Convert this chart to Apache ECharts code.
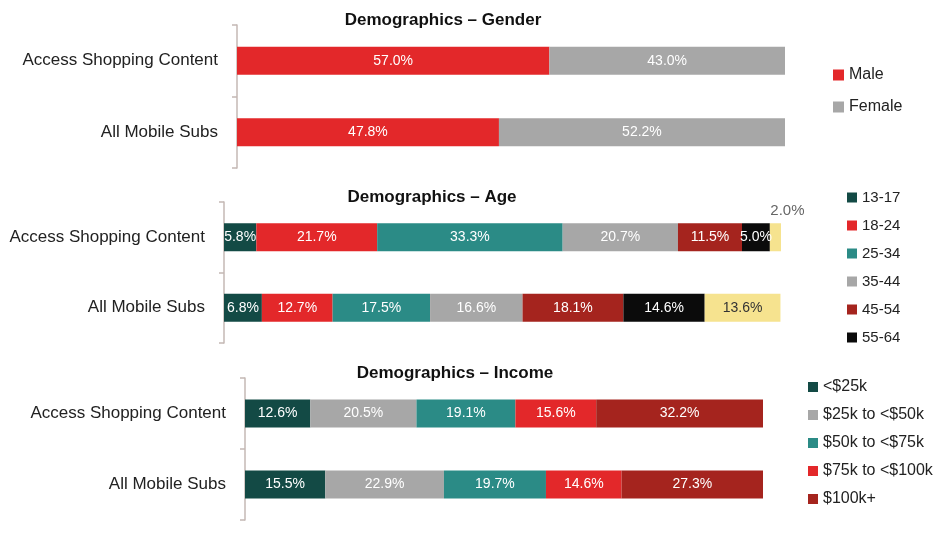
<!DOCTYPE html>
<html>
<head>
<meta charset="utf-8">
<script src="https://cdn.jsdelivr.net/npm/echarts@6/dist/echarts.min.js"></script>
<style>html,body{margin:0;padding:0;background:#fff}#c{width:948px;height:536px}</style>
</head>
<body>
<div id="c"></div>
<script>
const categories = ['Access Shopping Content', 'All Mobile Subs'];

const genderNames = ['Male', 'Female'];
const genderMale = [57.0, 47.8];
const genderFemale = [43.0, 52.2];

const ageNames = ['13-17', '18-24', '25-34', '35-44', '45-54', '55-64', '65+'];
const age1317 = [5.8, 6.8];
const age1824 = [21.7, 12.7];
const age2534 = [33.3, 17.5];
const age3544 = [20.7, 16.6];
const age4554 = [11.5, 18.1];
const age5564 = [5.0, 14.6];
const age65 = [2.0, 13.6];

const incomeNames = ['<$25k', '$25k to <$50k', '$50k to <$75k', '$75k to <$100k', '$100k+'];
const inc1 = [12.6, 15.5];
const inc2 = [20.5, 22.9];
const inc3 = [19.1, 19.7];
const inc4 = [15.6, 14.6];
const inc5 = [32.2, 27.3];

const C = {
  darkTeal: '#134a45', red: '#e3282a', teal: '#2b8b86', gray: '#a7a7a7',
  darkRed: '#a5241e', black: '#0b0b0b', yellow: '#f6e38f'
};
const FONT = 'Liberation Sans';

function mkSeries(name, data, color, idx, labelColor) {
  return {
    type: 'bar', name: name, stack: 's' + idx, xAxisIndex: idx, yAxisIndex: idx,
    barWidth: 28, data: data, itemStyle: { color: color },
    label: { show: true, position: 'inside', color: labelColor || '#fff', fontFamily: FONT, fontSize: 14,
      formatter: p => Number(p.value).toFixed(1) + '%' },
    emphasis: { disabled: true }
  };
}

const grids = [
  { left: 237, top: 25, width: 548, height: 143 },
  { left: 224, top: 202, width: 557, height: 141 },
  { left: 245, top: 378, width: 518, height: 142 }
];

const xAxes = grids.map((g, i) => ({ type: 'value', gridIndex: i, min: 0, max: 100, show: false }));
const yAxes = grids.map((g, i) => ({
  type: 'category', gridIndex: i, data: categories, inverse: true,
  axisLine: { show: true, lineStyle: { color: '#c4b8b4', width: 1.5 } },
  axisTick: { show: true, length: 5, lineStyle: { color: '#c4b8b4', width: 1.5 } },
  axisLabel: { color: '#222', fontFamily: FONT, fontSize: 17, margin: 19 }
}));

const age65Data = [
  { value: age65[0], label: { position: 'top', distance: 5, offset: [12, 0], color: '#666', fontSize: 15 } },
  age65[1]
];

const series = [
  mkSeries(genderNames[0], genderMale, C.red, 0),
  mkSeries(genderNames[1], genderFemale, C.gray, 0),
  mkSeries(ageNames[0], age1317, C.darkTeal, 1),
  mkSeries(ageNames[1], age1824, C.red, 1),
  mkSeries(ageNames[2], age2534, C.teal, 1),
  mkSeries(ageNames[3], age3544, C.gray, 1),
  mkSeries(ageNames[4], age4554, C.darkRed, 1),
  mkSeries(ageNames[5], age5564, C.black, 1),
  mkSeries(ageNames[6], age65Data, C.yellow, 1, '#333'),
  mkSeries(incomeNames[0], inc1, C.darkTeal, 2),
  mkSeries(incomeNames[1], inc2, C.gray, 2),
  mkSeries(incomeNames[2], inc3, C.teal, 2),
  mkSeries(incomeNames[3], inc4, C.red, 2),
  mkSeries(incomeNames[4], inc5, C.darkRed, 2)
];

const titleStyle = { fontFamily: FONT, fontSize: 17, fontWeight: 'bold', color: '#111' };
const option = {
  animation: false,
  backgroundColor: '#fff',
  title: [
    { text: 'Demographics – Gender', left: 438, textAlign: 'center', top: 7, textStyle: titleStyle },
    { text: 'Demographics – Age', left: 427, textAlign: 'center', top: 184, textStyle: titleStyle },
    { text: 'Demographics – Income', left: 450, textAlign: 'center', top: 360, textStyle: titleStyle }
  ],
  legend: [
    { data: genderNames, orient: 'vertical', left: 828, top: 62, itemWidth: 11, itemHeight: 11, itemGap: 16, icon: 'rect',
      textStyle: { color: '#222', fontFamily: FONT, fontSize: 16 }, selectedMode: false },
    { data: ageNames.slice(0, 6), orient: 'vertical', left: 842, top: 185, itemWidth: 10, itemHeight: 10, itemGap: 13, icon: 'rect',
      textStyle: { color: '#222', fontFamily: FONT, fontSize: 15 }, selectedMode: false },
    { data: incomeNames, orient: 'vertical', left: 803, top: 374, itemWidth: 10, itemHeight: 10, itemGap: 12, icon: 'rect',
      textStyle: { color: '#222', fontFamily: FONT, fontSize: 16 }, selectedMode: false }
  ],
  grid: grids,
  xAxis: xAxes,
  yAxis: yAxes,
  series: series
};
const chart = echarts.init(document.getElementById('c'), null, { renderer: 'canvas' });
chart.setOption(option);
</script>
</body>
</html>
